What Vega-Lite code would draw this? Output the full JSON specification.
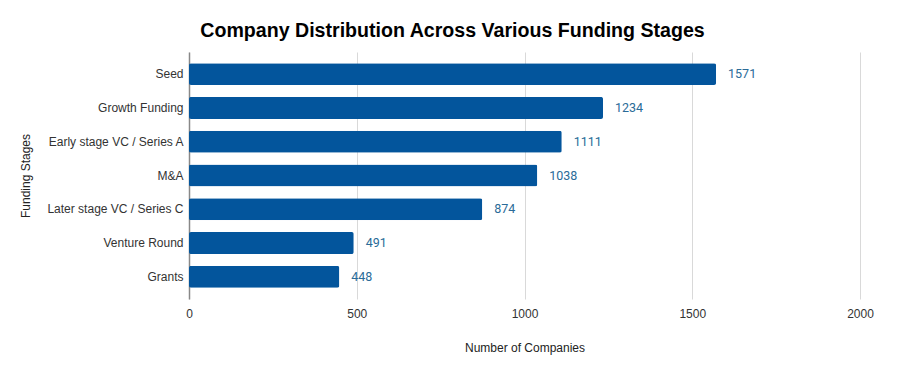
{
  "$schema": "https://vega.github.io/schema/vega-lite/v6.json",
  "width": 671,
  "height": 247,
  "autosize": {"type": "none"},
  "padding": {"left": 189, "top": 52, "right": 40, "bottom": 75},
  "background": "white",
  "title": {
    "text": "Company Distribution Across Various Funding Stages",
    "font": "Liberation Sans",
    "fontSize": 19.6,
    "fontWeight": "bold",
    "color": "#000000",
    "anchor": "middle",
    "dx": -72,
    "offset": 10
  },
  "data": {
    "values": [
      {"stage": "Seed", "count": 1571},
      {"stage": "Growth Funding", "count": 1234},
      {"stage": "Early stage VC / Series A", "count": 1111},
      {"stage": "M&A", "count": 1038},
      {"stage": "Later stage VC / Series C", "count": 874},
      {"stage": "Venture Round", "count": 491},
      {"stage": "Grants", "count": 448}
    ]
  },
  "config": {
    "view": {"stroke": null},
    "font": "Liberation Sans"
  },
  "encoding": {
    "y": {
      "field": "stage",
      "type": "nominal",
      "sort": null,
      "scale": {"paddingInner": 0.35, "paddingOuter": 0.33},
      "axis": {
        "title": "Funding Stages",
        "titleFont": "Liberation Sans",
        "titleFontSize": 12,
        "titleFontWeight": "normal",
        "titleColor": "#222222",
        "titlePadding": 14,
        "labelFont": "Liberation Sans",
        "labelFontSize": 12,
        "labelColor": "#333333",
        "labelPadding": 6,
        "ticks": false,
        "domainColor": "#888888",
        "domainWidth": 1.5
      }
    },
    "x": {
      "field": "count",
      "type": "quantitative",
      "scale": {"domain": [0, 2000], "nice": false},
      "axis": {
        "title": "Number of Companies",
        "titleFont": "Liberation Sans",
        "titleFontSize": 12,
        "titleFontWeight": "normal",
        "titleColor": "#222222",
        "titlePadding": 23,
        "labelFont": "Liberation Sans",
        "labelFontSize": 12,
        "labelColor": "#333333",
        "labelPadding": 9,
        "labelFlush": false,
        "format": "d",
        "values": [0, 500, 1000, 1500, 2000],
        "ticks": false,
        "domain": false,
        "grid": true,
        "gridColor": "#d9d9d9",
        "gridWidth": 1
      }
    }
  },
  "layer": [
    {
      "mark": {"type": "bar", "color": "#03559c", "cornerRadius": 2}
    },
    {
      "mark": {
        "type": "text",
        "align": "left",
        "baseline": "middle",
        "dx": 12,
        "fontSize": 12.5,
        "font": "Roboto",
        "color": "#2a6b98"
      },
      "encoding": {"text": {"field": "count", "type": "quantitative"}}
    }
  ]
}
